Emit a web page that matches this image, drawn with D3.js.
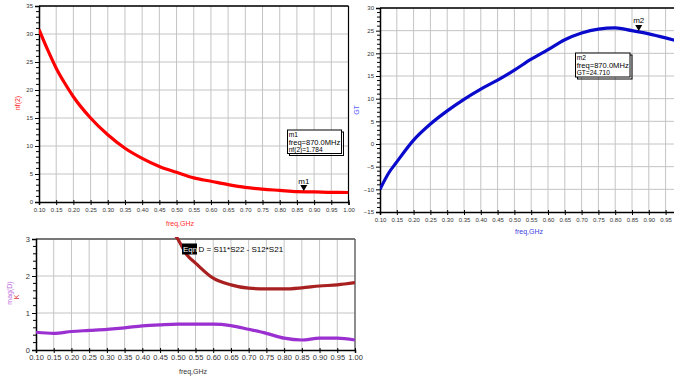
<!DOCTYPE html>
<html><head><meta charset="utf-8">
<script src="https://cdn.jsdelivr.net/npm/d3@7"></script>
<style>
body{margin:0;background:#fff;}
svg{display:block;font-family:"Liberation Sans",Arial,sans-serif;}
</style></head><body>
<script>
// ---- data ----
const nfFreq = [0.10,0.125,0.15,0.175,0.20,0.25,0.30,0.35,0.40,0.45,0.50,0.55,0.60,0.65,0.70,0.75,0.80,0.85,0.90,0.95,1.00];
const nfVals = [30.8,27.2,23.9,21.2,18.8,15.0,12.0,9.6,7.8,6.35,5.3,4.3,3.7,3.1,2.6,2.3,2.07,1.84,1.8,1.72,1.7];
const gtFreq = [0.10,0.125,0.15,0.20,0.25,0.30,0.35,0.40,0.45,0.50,0.55,0.60,0.65,0.70,0.75,0.80,0.85,0.90,0.95,1.00];
const gtVals = [-10.0,-6.5,-3.95,0.85,4.4,7.3,9.85,12.1,14.1,16.3,18.7,20.8,23.0,24.5,25.35,25.6,25.0,24.3,23.4,22.4];
const kFreq = [0.45,0.50,0.525,0.55,0.60,0.65,0.70,0.75,0.80,0.85,0.90,0.95,1.00];
const kVals = [3.6,3.0,2.58,2.35,1.94,1.76,1.67,1.65,1.65,1.68,1.73,1.76,1.82];
const dFreq = [0.10,0.15,0.20,0.25,0.30,0.35,0.40,0.45,0.50,0.55,0.60,0.65,0.70,0.75,0.80,0.85,0.90,0.95,1.00];
const dVals = [0.48,0.45,0.50,0.53,0.56,0.60,0.65,0.68,0.70,0.70,0.70,0.66,0.56,0.45,0.32,0.27,0.32,0.32,0.27];
const xTicks = d3.range(0,19).map(i => +(0.10 + i*0.05).toFixed(2));
const nfTicks = [0,5,10,15,20,25,30,35];
const gtTicks = [-15,-10,-5,0,5,10,15,20,25,30];
const kTicks = [0,1,2,3];
const m1 = {freq:0.87, value:1.784, lines:["m1","freq=870.0MHz","nf(2)=1.784"]};
const m2 = {freq:0.87, value:24.71, lines:["m2","freq=870.0MHz","GT=24.710"]};

const W=674,H=378;
const svg = d3.select("body").append("svg").attr("width",W).attr("height",H);

function panel(o){
  const g = svg.append("g");
  const x = d3.scaleLinear().domain([0.10,1.00]).range([o.x0,o.x1]);
  const y = d3.scaleLinear().domain(o.ydom).range([o.y1,o.y0]);
  const clipId = "clip"+o.id;
  svg.append("clipPath").attr("id",clipId).append("rect")
    .attr("x",o.x0).attr("y",o.y0-2).attr("width",Math.min(o.x1,W)-o.x0).attr("height",o.y1-o.y0+2);
  // grid
  g.append("g").selectAll("line").data(xTicks.slice(1)).join("line")
    .attr("x1",d=>x(d)).attr("x2",d=>x(d)).attr("y1",o.y0).attr("y2",o.y1)
    .attr("stroke","#c4c4c4").attr("stroke-width",1);
  g.append("g").selectAll("line").data(o.yticks.slice(1)).join("line")
    .attr("x1",o.x0).attr("x2",o.x1).attr("y1",d=>y(d)).attr("y2",d=>y(d))
    .attr("stroke","#c4c4c4").attr("stroke-width",1);
  // frame
  g.append("line").attr("x1",o.x0).attr("x2",o.x1).attr("y1",o.y0).attr("y2",o.y0).attr("stroke",o.topColor).attr("stroke-width",1.6);
  g.append("line").attr("x1",o.x1).attr("x2",o.x1).attr("y1",o.y0).attr("y2",o.y1).attr("stroke",o.topColor).attr("stroke-width",1.2);
  // axes
  const ya = d3.axisLeft(y).tickValues(o.yticks).tickSize(4).tickPadding(2).tickFormat(d3.format("d"));
  const yaG = g.append("g").attr("transform",`translate(${o.x0},0)`).call(ya);
  const minor = [];
  for(let i=0;i<o.yticks.length-1;i++){const a=o.yticks[i],b=o.yticks[i+1];for(let k=1;k<5;k++)minor.push(a+(b-a)*k/5);}
  g.append("g").selectAll("line").data(minor).join("line")
    .attr("x1",o.x0-3).attr("x2",o.x0).attr("y1",d=>y(d)).attr("y2",d=>y(d)).attr("stroke","#000").attr("stroke-width",1);
  const xa = d3.axisBottom(x).tickValues(xTicks).tickSize(3).tickPadding(o.xpad).tickFormat(d3.format(".2f"));
  const xaG = g.append("g").attr("transform",`translate(0,${o.y1})`).call(xa);
  xaG.selectAll(".tick line").attr("y1",-2);
  [yaG,xaG].forEach(a=>{
    a.select(".domain").attr("stroke","#000").attr("stroke-width",1.5);
    a.selectAll(".tick line").attr("stroke","#000").attr("stroke-width",1);
    a.selectAll("text").attr("font-size",o.fs).attr("fill","#333").attr("font-family","Liberation Sans, Arial, sans-serif");
  });
  return {g,x,y,clipId};
}

function drawLine(p,fx,vals,color){
  const data = fx.map((f,i)=>[f,vals[i]]);
  p.g.append("path").datum(data).attr("clip-path",`url(#${p.clipId})`)
    .attr("fill","none").attr("stroke",color).attr("stroke-width",3.2).attr("stroke-linejoin","round")
    .attr("d",d3.line().x(d=>p.x(d[0])).y(d=>p.y(d[1])).curve(d3.curveMonotoneX));
}

function marker(p,m,bx,by,bw,bh){
  const mx=p.x(m.freq), my=p.y(m.value);
  p.g.append("path").attr("d",`M${mx-3.5},${my-7}L${mx+3.5},${my-7}L${mx},${my-1}Z`).attr("fill","#000");
  p.g.append("text").attr("x",mx).attr("y",my-8.5).attr("text-anchor","middle").attr("font-size",8).attr("fill","#000").text(m.lines[0]);
  // box with shadow
  p.g.append("rect").attr("x",bx+2).attr("y",by+2).attr("width",bw).attr("height",bh).attr("fill","none").attr("stroke","#000").attr("stroke-width",1);
  p.g.append("rect").attr("x",bx).attr("y",by).attr("width",bw).attr("height",bh).attr("fill","#fff").attr("stroke","#000").attr("stroke-width",1);
  m.lines.forEach((t,i)=>{
    const tx = p.g.append("text").attr("x",bx+1.2).attr("y",by+7+i*7.7).attr("font-size",6.6).attr("fill","#000").text(t);
    if(i===1) tx.attr("textLength",bw-2.5).attr("lengthAdjust","spacingAndGlyphs");
  });
}

// Panel 1: nf(2)
const p1 = panel({id:1,x0:39,x1:348.5,y0:6,y1:202,ydom:[0,35],yticks:nfTicks,fs:6,xpad:3,topColor:"#000"});
drawLine(p1,nfFreq,nfVals,"#ff0000");
marker(p1,m1,287.5,130,54,23.5);
svg.append("text").attr("transform","translate(20,103) rotate(-90)").attr("text-anchor","middle").attr("font-size",7).attr("fill","#ff2020").text("nf(2)");
svg.append("text").attr("x",180).attr("y",226).attr("text-anchor","middle").attr("font-size",7).attr("fill","#ff3030").text("freq,GHz");

// Panel 2: GT
const p2 = panel({id:2,x0:380,x1:682.4,y0:8,y1:212,ydom:[-15,30],yticks:gtTicks,fs:6,xpad:3,topColor:"#000"});
drawLine(p2,gtFreq,gtVals,"#0a0acc");
marker(p2,m2,575.5,53,54.5,24);
svg.append("text").attr("transform","translate(359,110) rotate(-90)").attr("text-anchor","middle").attr("font-size",7).attr("fill","#5a5aff").text("GT");
svg.append("text").attr("x",529).attr("y",234).attr("text-anchor","middle").attr("font-size",7).attr("fill","#4040e0").text("freq,GHz");

// Panel 3: K and mag(D)
const p3 = panel({id:3,x0:36,x1:355,y0:239,y1:350,ydom:[0,3],yticks:kTicks,fs:7.5,xpad:2,topColor:"#555"});
drawLine(p3,dFreq,dVals,"#9b30d0");
drawLine(p3,kFreq,kVals,"#a82020");
svg.append("text").attr("transform","translate(12,293) rotate(-90)").attr("text-anchor","middle").attr("font-size",7).attr("fill","#c070e0").text("mag(D)");
svg.append("text").attr("transform","translate(19,297) rotate(-90)").attr("text-anchor","middle").attr("font-size",7).attr("fill","#e03030").text("K");
svg.append("text").attr("x",193).attr("y",374).attr("text-anchor","middle").attr("font-size",7).attr("fill","#333").text("freq,GHz");
// equation label
svg.append("rect").attr("x",182).attr("y",243.5).attr("width",15).attr("height",11).attr("fill","#000");
svg.append("text").attr("x",183).attr("y",252.3).attr("font-size",8).attr("fill","#fff").text("Eqn");
svg.append("text").attr("x",198.5).attr("y",252.3).attr("font-size",8).attr("fill","#000").text("D = S11*S22 - S12*S21");
</script>
</body></html>
